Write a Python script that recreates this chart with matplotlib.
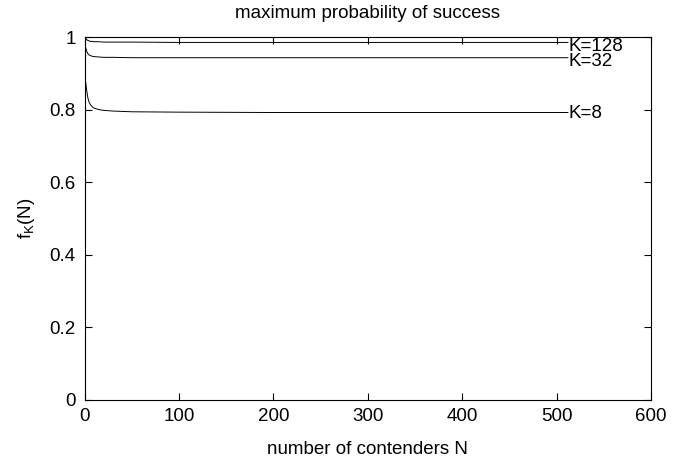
import matplotlib
matplotlib.use('Agg')
import matplotlib.pyplot as plt

plt.rcParams['font.family'] = ['Liberation Sans', 'DejaVu Sans']

# values
n_vals = [1, 2, 3, 4, 5, 6, 8, 10, 15, 20, 30, 50, 100, 200, 300, 400, 512]
f_k8 = [0.877, 0.856, 0.838, 0.826, 0.819, 0.814, 0.808, 0.804, 0.800, 0.798, 0.796, 0.794, 0.793, 0.792, 0.792, 0.792, 0.792]
f_k32 = [0.972, 0.962, 0.956, 0.952, 0.950, 0.949, 0.947, 0.946, 0.945, 0.944, 0.944, 0.943, 0.943, 0.943, 0.943, 0.943, 0.943]
f_k128 = [0.997, 0.993, 0.991, 0.990, 0.989, 0.988, 0.988, 0.987, 0.987, 0.986, 0.986, 0.986, 0.985, 0.985, 0.985, 0.985, 0.985]

curve_labels = ['K=8', 'K=32', 'K=128']

fig = plt.figure(figsize=(6.9, 4.62), dpi=100)
ax = fig.add_axes([0.1227, 0.1342, 0.8207, 0.7857])

for f in (f_k8, f_k32, f_k128):
    ax.plot(n_vals, f, color='black', lw=0.7)

ax.text(513, 0.788, curve_labels[0], fontsize=13.5, va='center')
ax.text(513, 0.932, curve_labels[1], fontsize=13.5, va='center')
ax.text(513, 0.975, curve_labels[2], fontsize=13.5, va='center')

ax.set_xlim(0, 600)
ax.set_ylim(0, 1)
ax.set_xticks(range(0, 601, 100))
ax.set_yticks([0, 0.2, 0.4, 0.6, 0.8, 1])
ax.set_yticklabels(['0', '0.2', '0.4', '0.6', '0.8', '1'])
ax.tick_params(direction='in', top=True, right=True, labelsize=13.5, length=5)
ax.tick_params(axis='x', pad=6)
ax.tick_params(axis='y', pad=6.5)
ax.set_xlabel('number of contenders N', fontsize=13.5, labelpad=11)
ax.set_ylabel('$\\mathregular{f_K(N)}$', fontsize=13.5, labelpad=9)
ax.set_title('maximum probability of success', fontsize=13.5, pad=13.5)

fig.savefig('out.png', dpi=100)
